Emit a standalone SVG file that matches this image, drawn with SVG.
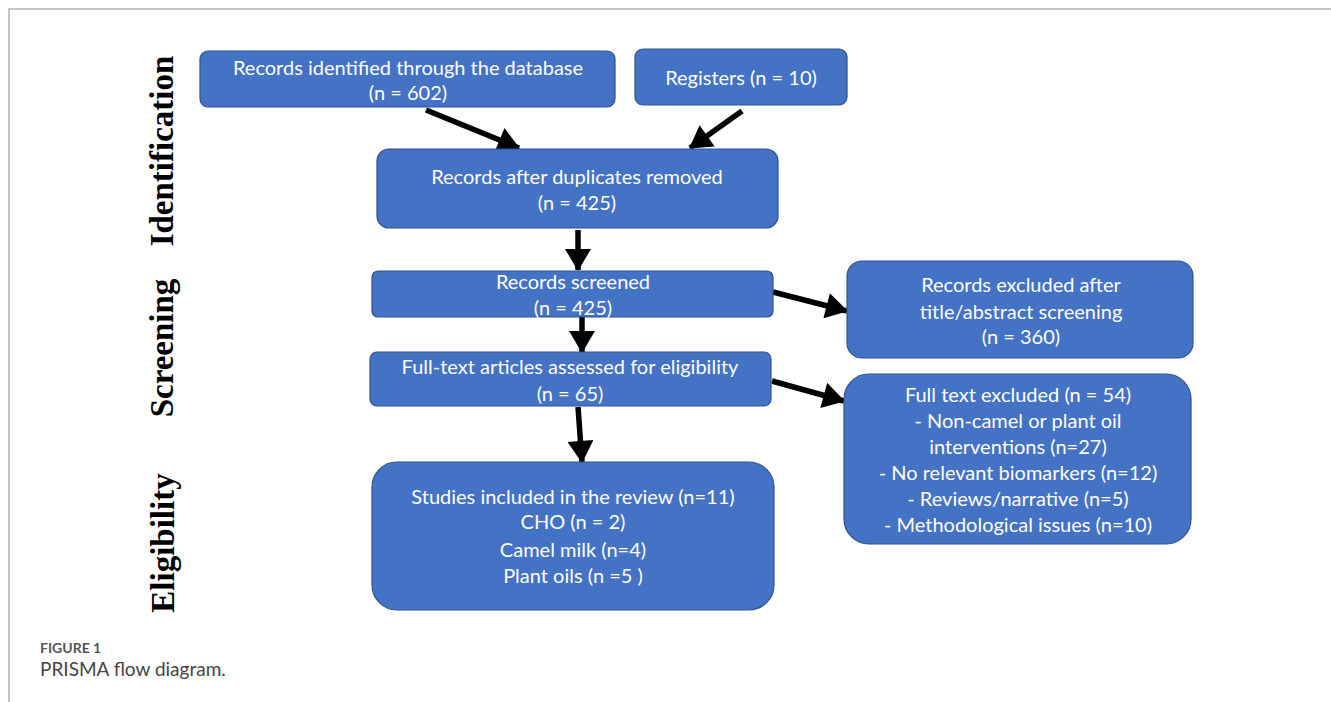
<svg xmlns="http://www.w3.org/2000/svg" width="1331" height="702" viewBox="0 0 1331 702">
<defs>
<style>
.box{fill:#4472C4;stroke:#2F528F;stroke-width:1.2}
.t{font-family:Lato,"Open Sans","Liberation Sans",sans-serif;font-size:20px;fill:#ffffff;text-anchor:middle}
.side{font-family:"Liberation Serif","Times New Roman",serif;font-weight:bold;font-size:33px;fill:#000;text-anchor:middle}
.conn{stroke:#000;stroke-width:5.5;fill:none}
.frame{stroke:#b3b3b3;stroke-width:1.6;fill:none}
</style>
<marker id="ah" markerUnits="userSpaceOnUse" markerWidth="24" markerHeight="26" viewBox="0 0 22 26" refX="21" refY="13" orient="auto">
<path d="M0,0 L22,13 L0,26 Z" fill="#000"/>
</marker>
</defs>
<rect width="1331" height="702" fill="#fff"/>
<path class="frame" d="M9,702 V9 H1331"/>

<g id="labels">
<text class="side" transform="translate(173,151) rotate(-90)">Identification</text>
<text class="side" transform="translate(173,348) rotate(-90)">Screening</text>
<text class="side" transform="translate(174,543) rotate(-90)">Eligibility</text>
</g>

<g id="connectors">
<line class="conn" x1="426" y1="110" x2="519" y2="148" marker-end="url(#ah)"/>
<line class="conn" x1="742" y1="111" x2="690" y2="148" marker-end="url(#ah)"/>
<line class="conn" x1="578" y1="230" x2="578" y2="270" marker-end="url(#ah)"/>
<line class="conn" x1="582" y1="313" x2="582" y2="352" marker-end="url(#ah)"/>
<line class="conn" x1="578" y1="407" x2="582" y2="462" marker-end="url(#ah)"/>
<line class="conn" x1="773" y1="292" x2="847" y2="311" marker-end="url(#ah)"/>
<line class="conn" x1="772" y1="381" x2="844" y2="401" marker-end="url(#ah)"/>
</g>

<g id="node-database">
<rect class="box" x="200" y="51" width="415" height="56" rx="8"/>
<text class="t" x="408" y="75">Records identified through the database</text>
<text class="t" x="408" y="100">(n = 602)</text>
</g>
<g id="node-registers">
<rect class="box" x="635" y="49" width="212" height="56" rx="8"/>
<text class="t" x="741" y="85">Registers (n = 10)</text>
</g>
<g id="node-duplicates">
<rect class="box" x="377" y="149" width="401" height="79" rx="12"/>
<text class="t" x="577" y="184">Records after duplicates removed</text>
<text class="t" x="577" y="210">(n = 425)</text>
</g>
<g id="node-screened">
<rect class="box" x="372" y="271" width="401" height="46" rx="6"/>
<text class="t" x="573" y="289">Records screened</text>
<text class="t" x="573" y="315">(n = 425)</text>
</g>
<g id="node-fulltext">
<rect class="box" x="370" y="352" width="401" height="54" rx="7"/>
<text class="t" x="570" y="374">Full-text articles assessed for eligibility</text>
<text class="t" x="570" y="401">(n = 65)</text>
</g>
<g id="node-included">
<rect class="box" x="372" y="462" width="402" height="148" rx="25"/>
<text class="t" x="573" y="504">Studies included in the review (n=11)</text>
<text class="t" x="573" y="529">CHO (n = 2)</text>
<text class="t" x="573" y="557">Camel milk (n=4)</text>
<text class="t" x="573" y="583">Plant oils (n =5 )</text>
</g>
<g id="node-excluded-screening">
<rect class="box" x="847" y="261" width="346" height="97" rx="15"/>
<text class="t" x="1021" y="292">Records excluded after</text>
<text class="t" x="1021" y="319">title/abstract screening</text>
<text class="t" x="1021" y="344">(n = 360)</text>
</g>
<g id="node-excluded-fulltext">
<rect class="box" x="844" y="374" width="347" height="170" rx="25"/>
<text class="t" x="1018" y="402">Full text excluded (n = 54)</text>
<text class="t" x="1018" y="428">- Non-camel or plant oil</text>
<text class="t" x="1018" y="454">interventions (n=27)</text>
<text class="t" x="1018" y="480">- No relevant biomarkers (n=12)</text>
<text class="t" x="1018" y="506">- Reviews/narrative (n=5)</text>
<text class="t" x="1018" y="532">- Methodological issues (n=10)</text>
</g>

<g id="caption">
<text x="40" y="653" font-family="Lato,'Open Sans',sans-serif" font-size="14" font-weight="bold" fill="#555">FIGURE 1</text>
<text x="40" y="676" font-family="Lato,'Open Sans',sans-serif" font-size="19" fill="#444">PRISMA flow diagram.</text>
</g>
</svg>
